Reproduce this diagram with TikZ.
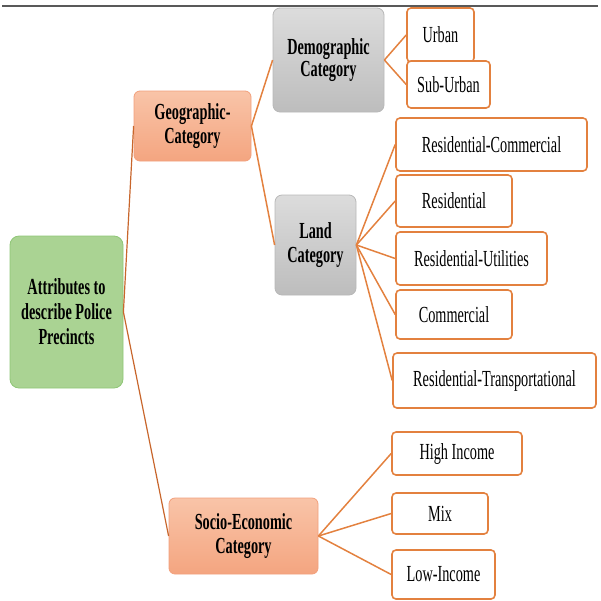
\documentclass[tikz,border=0pt]{standalone}
\usepackage{fontspec}
\setmainfont{Liberation Serif}[FakeStretch=0.62]
\begin{document}
\begin{tikzpicture}[x=1pt,y=-1pt,
  every node/.style={inner sep=0pt, align=center, font=\fontsize{23}{24.5}\selectfont},
  leaf/.style={draw=orange!85!black!80, fill=white, line width=1.6pt, rounded corners=4pt},
  salmon/.style={draw=salmonB, top color=salmonT, bottom color=salmonBot, line width=0.8pt, rounded corners=6pt, font=\fontsize{23}{24.5}\selectfont\bfseries},
  greybox/.style={draw=greyB, top color=greyT, bottom color=greyBot, line width=0.8pt, rounded corners=7pt, font=\fontsize{23}{24.5}\selectfont\bfseries},
  greenbox/.style={draw=greenB, fill=greenF, line width=0.8pt, rounded corners=9pt, font=\fontsize{23}{25}\selectfont\bfseries},
  link/.style={draw=linkC, line width=1.5pt},
  rootlink/.style={draw=rootC, line width=1.2pt}
]
\definecolor{salmonB}{HTML}{F2A07C}
\definecolor{salmonT}{HTML}{F9C4A8}
\definecolor{salmonBot}{HTML}{F4A580}
\definecolor{greyB}{HTML}{B8B8B8}
\definecolor{greyT}{HTML}{DCDCDC}
\definecolor{greyBot}{HTML}{BDBDBD}
\definecolor{greenB}{HTML}{8FC676}
\definecolor{greenF}{HTML}{AAD393}
\definecolor{linkC}{HTML}{E3813F}
\definecolor{rootC}{HTML}{C8662C}
\tikzset{leaf/.append style={draw=linkC}}
\useasboundingbox (0,0) rectangle (601,600);
\coordinate (tl) at (2,6);
\coordinate (tr) at (598,6);
\draw[line width=2pt, color=black!65] (tl) -- (tr);

\node[greenbox, minimum width=113pt, minimum height=152pt] (root) at (66.5,312) {Attributes to\\describe Police\\Precincts};
\node[salmon, minimum width=117pt, minimum height=70pt] (geo) at (192.5,126) {Geographic-\\Category};
\node[salmon, minimum width=149pt, minimum height=76pt] (socio) at (243.5,536) {Socio-Economic\\Category};
\node[greybox, minimum width=111pt, minimum height=104pt, font=\fontsize{23}{21.5}\selectfont\bfseries] (demo) at (328.5,60) {Demographic\\Category};
\node[greybox, minimum width=81pt, minimum height=100pt] (land) at (315.5,245) {Land\\Category};

\node[leaf, minimum width=67pt, minimum height=54pt] (urban) at (440.5,35) {Urban};
\node[leaf, minimum width=83pt, minimum height=47pt] (suburban) at (448.5,84.5) {Sub-Urban};

\node[leaf, minimum width=191pt, minimum height=53pt] (rescomm) at (491.5,144.5) {Residential-Commercial};
\node[leaf, minimum width=116pt, minimum height=52pt] (res) at (454,201) {Residential};
\node[leaf, minimum width=151pt, minimum height=53pt] (resutil) at (471.5,258.5) {Residential-Utilities};
\node[leaf, minimum width=116pt, minimum height=49pt] (comm) at (454,314.5) {Commercial};
\node[leaf, minimum width=203pt, minimum height=55pt] (restrans) at (494.5,380.5) {Residential-Transportational};

\node[leaf, minimum width=130pt, minimum height=43pt] (high) at (457,453.5) {High Income};
\node[leaf, minimum width=96pt, minimum height=41pt] (mix) at (440,513.5) {Mix};
\node[leaf, minimum width=103pt, minimum height=49pt] (low) at (443.5,574.5) {Low-Income};

\draw[rootlink] (root.east) -- (geo.west);
\draw[rootlink] (root.east) -- (socio.west);
\draw[link] (geo.east) -- (demo.west);
\draw[link] (geo.east) -- (land.west);
\draw[link] (demo.east) -- (urban.west);
\draw[link] (demo.east) -- (suburban.west);
\foreach \c in {rescomm,res,resutil,comm,restrans} \draw[link] (land.east) -- (\c.west);
\foreach \c in {high,mix,low} \draw[link] (socio.east) -- (\c.west);
\end{tikzpicture}
\end{document}
